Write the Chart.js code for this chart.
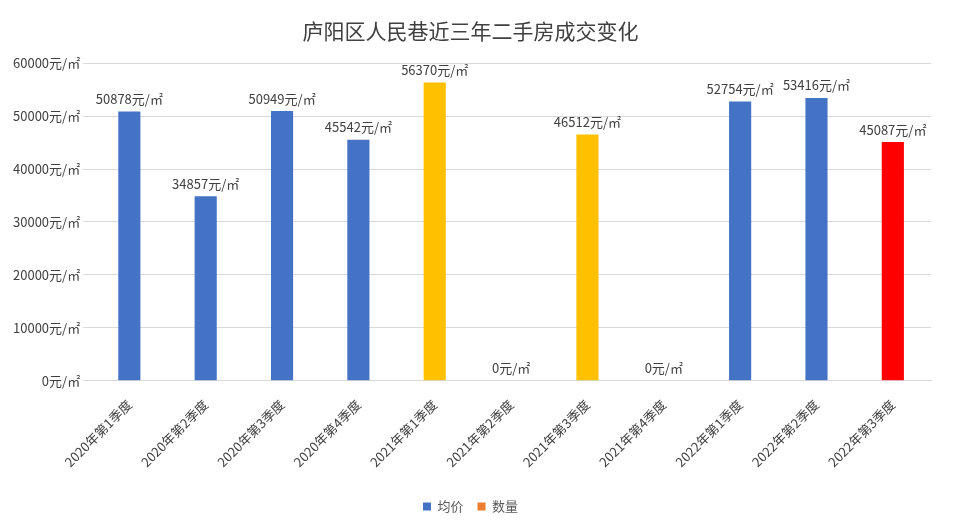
<!DOCTYPE html>
<html><head><meta charset="utf-8">
<script src="https://cdn.jsdelivr.net/npm/chart.js@4"></script>
<style>html,body{margin:0;padding:0;background:#fff}#w{width:959px;height:527px}</style>
</head><body><div id="w"><canvas id="c"></canvas></div>
<script>
const categories=["2020年第1季度","2020年第2季度","2020年第3季度","2020年第4季度","2021年第1季度","2021年第2季度","2021年第3季度","2021年第4季度","2022年第1季度","2022年第2季度","2022年第3季度"];
const prices=[50878,34857,50949,45542,56370,0,46512,0,52754,53416,45087];
const barColors=["#4472C4","#4472C4","#4472C4","#4472C4","#FFC000","#4472C4","#FFC000","#4472C4","#4472C4","#4472C4","#FF0000"];
const yTicks=[0,10000,20000,30000,40000,50000,60000];
const font='"Microsoft YaHei","Noto Sans CJK SC",sans-serif';
const labelPlugin={id:'lbl',afterDatasetsDraw(ch){const ctx=ch.ctx;const m=ch.getDatasetMeta(0);ctx.save();ctx.font='13px '+font;ctx.fillStyle='#404040';ctx.textAlign='center';ctx.textBaseline='bottom';
m.data.forEach((b,i)=>{ctx.fillText(prices[i]+'元/㎡',b.x,b.y-6);});ctx.restore();}};
new Chart(document.getElementById('c'),{type:'bar',
data:{labels:categories,datasets:[{label:'均价',data:prices,backgroundColor:barColors,grouped:false,barPercentage:0.29,categoryPercentage:1},
{label:'数量',data:[],backgroundColor:'#ED7D31',grouped:false}]},
options:{responsive:true,maintainAspectRatio:false,animation:false,
layout:{padding:{left:10,right:28,top:8,bottom:4}},
plugins:{title:{display:true,text:'庐阳区人民巷近三年二手房成交变化',color:'#404040',font:{family:font,size:21,weight:'normal'},padding:{top:10,bottom:20}},
legend:{position:'bottom',labels:{padding:14,boxWidth:8,boxHeight:8,color:'#595959',font:{family:font,size:13},generateLabels(ch){return [{text:'均价',fillStyle:'#4472C4',strokeStyle:'#4472C4',lineWidth:0,datasetIndex:0,fontColor:'#595959'},{text:'数量',fillStyle:'#ED7D31',strokeStyle:'#ED7D31',lineWidth:0,datasetIndex:1,fontColor:'#595959'}];}}},
tooltip:{enabled:false}},
scales:{x:{grid:{display:false},border:{color:'#d9d9d9'},ticks:{padding:8,color:'#404040',font:{family:font,size:13},maxRotation:45,minRotation:45,autoSkip:false},afterFit(a){a.height+=8;}},
y:{min:0,max:60000,afterBuildTicks(a){a.ticks=yTicks.map(v=>({value:v}));},grid:{color:'#d9d9d9'},border:{display:false},ticks:{color:'#404040',font:{family:font,size:13},callback:v=>v+'元/㎡'}}}},
plugins:[labelPlugin]});
</script></body></html>
